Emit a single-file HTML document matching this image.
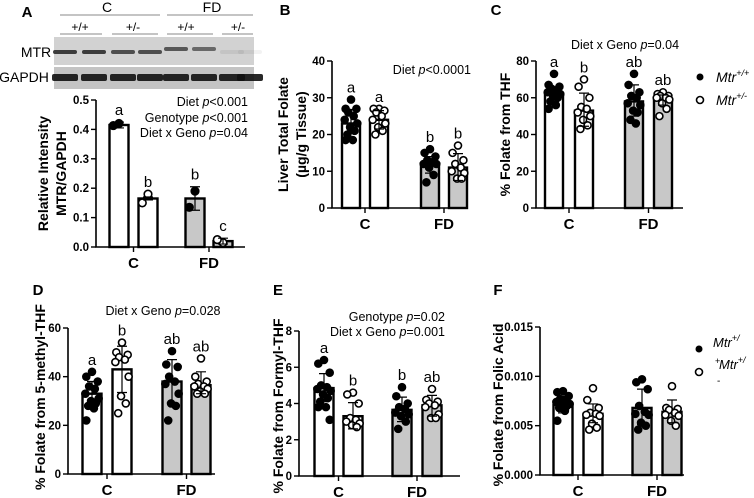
<!DOCTYPE html>
<html><head><meta charset="utf-8"><style>
html,body{margin:0;padding:0;background:#fff;}
svg{display:block;font-family:"Liberation Sans",Arial,sans-serif;}
</style></head><body>
<svg id="fig" width="754" height="498" viewBox="0 0 754 498">
 <g>
  <text x="27" y="17" font-size="15" font-weight="bold" text-anchor="middle">A</text>
  <text x="107" y="12" font-size="14" text-anchor="middle">C</text>
  <text x="212" y="12" font-size="14" text-anchor="middle">FD</text>
  <line x1="60" y1="15" x2="160" y2="15" stroke="#888" stroke-width="1"/>
  <line x1="167" y1="15" x2="253" y2="15" stroke="#888" stroke-width="1"/>
  <text x="80" y="31" font-size="12" text-anchor="middle">+/+</text>
  <text x="133" y="31" font-size="12" text-anchor="middle">+/-</text>
  <text x="186" y="31" font-size="12" text-anchor="middle">+/+</text>
  <text x="238" y="31" font-size="12" text-anchor="middle">+/-</text>
  <line x1="60" y1="34" x2="102" y2="34" stroke="#888"/><line x1="112" y1="34" x2="158" y2="34" stroke="#888"/>
  <line x1="167" y1="34" x2="213" y2="34" stroke="#888"/><line x1="222" y1="34" x2="253" y2="34" stroke="#888"/>
  <rect x="54" y="37" width="200" height="28" fill="#d2d2d2"/>
  <rect x="54" y="67" width="200" height="22" fill="#c4c4c4"/>
  <text x="36" y="57" font-size="14" text-anchor="middle">MTR</text>
  <text x="24" y="82" font-size="14" text-anchor="middle">GAPDH</text>
  <g id="bands"></g>
 </g>
 <g id="charts"></g>
 <g>
  <circle cx="700" cy="77" r="3.5" fill="#000"/>
  <text x="716" y="82" font-size="14" font-style="italic">Mtr<tspan font-size="9" dy="-6">+/+</tspan></text>
  <circle cx="700" cy="100" r="3.5" fill="#fff" stroke="#000" stroke-width="1.6"/>
  <text x="716" y="105" font-size="14" font-style="italic">Mtr<tspan font-size="9" dy="-6">+/-</tspan></text>
 </g>
 <g>
  <circle cx="699" cy="349" r="3.5" fill="#000"/>
  <text x="713" y="347" font-size="13" font-style="italic">Mtr<tspan font-size="9" dy="-6">+/</tspan></text>
  <text x="715" y="364" font-size="9">+</text>
  <circle cx="699" cy="372" r="3.5" fill="#fff" stroke="#000" stroke-width="1.6"/>
  <text x="719" y="369" font-size="13" font-style="italic">Mtr<tspan font-size="9" dy="-6">+/</tspan></text>
  <text x="717" y="384" font-size="10">-</text>
 </g>
</svg>
<script>
// ---- data ----
const cats = ['C','FD'];
const A_means=[0.415,0.165,0.165,0.02];
const A_lo=[0.405,0.16,0.125,0.01];
const A_hi=[0.425,0.17,0.205,0.03];
const A_dots=[[0.42,0.413],[0.18,0.15],[0.19,0.135],[0.015,0.025]];
const A_ticks=[0,0.1,0.2,0.3,0.4,0.5];
const A_tickLabels=['0.0','0.1','0.2','0.3','0.4','0.5'];
const A_letters=['a','b','b','c'];

const B_means=[23,24,12,11];
const B_lo=[20.5,21.5,9.5,7.5];
const B_hi=[26.8,26.5,14,14.8];
const B_dots=[[29.5,27,27,26,25,24,23,22,21,20,18.5,18.5],[27,27,26.5,26,25,24,23,22,21,20],[16,15,14,13,12.5,12,12,11,9,7],[17,15,13,12,11,10,9.5,8,8]];
const B_ticks=[0,10,20,30,40];
const B_tickLabels=['0','10','20','30','40'];
const B_letters=['a','a','b','b'];

const C_means=[62,53,58,59];
const C_lo=[58,44.5,50,56];
const C_hi=[66,62.5,67,61.5];
const C_dots=[[73,67,66,65,64,63,62,61,60,58,56,54],[70,66,60,55,54,52,50,48,45,43],[73,67,63,61,60,57,56,53,52,48,46],[63,62,61,61,60,60,59,57,54,50]];
const C_ticks=[0,20,40,60,80];
const C_tickLabels=['0','20','40','60','80'];
const C_letters=['a','b','ab','ab'];

const D_means=[33,43,38,36.5];
const D_lo=[27.5,33.5,29,33];
const D_hi=[38,52.5,47,42];
const D_dots=[[42,40,38,36,35,33,31,30,29,28,27,22],[54,50,49,48,47,46,40,32,29,25],[50.5,45,44,40,38,37,33,29,28,22],[47.5,40,38,37,36,36,35,34,33,33]];
const D_ticks=[0,20,40,60];
const D_tickLabels=['0','20','40','60'];
const D_letters=['a','b','ab','ab'];

const E_means=[4.85,3.3,3.65,3.9];
const E_lo=[4.1,2.6,3.0,3.3];
const E_hi=[5.65,4.05,4.35,4.45];
const E_dots=[[6.4,6.2,5.7,5.0,4.9,4.8,4.7,4.5,4.3,4.1,3.8,3.8,3.1],[4.6,4.5,4.0,3.2,3.1,3.0,2.9,2.8,2.7],[4.9,4.4,4.0,3.8,3.7,3.5,3.4,3.3,3.0,2.6],[4.8,4.2,4.1,4.0,3.9,3.8,3.4,3.2,3.2]];
const E_ticks=[0,2,4,6,8];
const E_tickLabels=['0','2','4','6','8'];
const E_letters=['a','b','b','ab'];

const F_means=[0.0071,0.0062,0.0068,0.0064];
const F_lo=[0.0063,0.0053,0.0051,0.0053];
const F_hi=[0.0080,0.0072,0.0087,0.0076];
const F_dots=[[0.0085,0.0084,0.0080,0.0077,0.0076,0.0074,0.0072,0.0071,0.0070,0.0068,0.0065,0.0055],[0.0088,0.0076,0.0068,0.0063,0.0062,0.0061,0.0060,0.0052,0.0048,0.0046],[0.0097,0.0094,0.0087,0.0070,0.0064,0.0062,0.0061,0.0053,0.0050,0.0046],[0.0090,0.0068,0.0067,0.0066,0.0063,0.0061,0.0060,0.0055,0.0050]];
const F_ticks=[0,0.005,0.010,0.015];
const F_tickLabels=['0.000','0.005','0.010','0.015'];
const F_letters=['','','',''];

// ---- rendering ----
const NS='http://www.w3.org/2000/svg';
function mk(tag,attrs,parent){const e=document.createElementNS(NS,tag);for(const k in attrs)e.setAttribute(k,attrs[k]);parent.appendChild(e);return e;}

const bandsG=document.getElementById('bands');
const laneX=[65,94,123,150,176,204,232,250];
const laneOp=[0.85,0.85,0.75,0.75,0.7,0.6,0.08,0.06];
laneX.forEach((x,i)=>{
  const b=mk('rect',{x:x-12,y:(i==4||i==5)?47:50,width:24,height:4,rx:2,fill:'#222','fill-opacity':laneOp[i]},bandsG);
  
  
  const g=mk('rect',{x:x-13,y:74,width:26,height:7,rx:2,fill:'#111','fill-opacity':0.9},bandsG);
  
  
});

const jit=[0,-6,6,-3,3,-7,7,-1,4,-4,2,-6,6];
function chart(p){
  const root=document.getElementById('charts');
  const g=mk('g',{},root);
  
  
  const tmax=p.ticks[p.ticks.length-1];
  const y=v=>p.y0-(v/tmax)*(p.y0-p.yTop);
  const t=mk('text',{x:p.lx,y:p.ly,'font-size':15,'font-weight':'bold','text-anchor':'middle'},g);
  t.textContent=p.id.toUpperCase();
  
  
  p.means.forEach((m,i)=>{
    const cx=p.barX[i];
    const r=mk('rect',{x:cx-p.bw/2,y:y(m),width:p.bw,height:p.y0-y(m),fill:i>1?'#c8c8c8':'#fff',stroke:'#000','stroke-width':2.4},g);
    
    
  });
  p.dots.forEach((arr,i)=>{
    arr.forEach((v,j)=>{
      const c=mk('circle',{cx:p.barX[i]+jit[j%jit.length]*p.bw/20,cy:y(v),r:p.r,fill:i%2?'#fff':'#000',stroke:'#000','stroke-width':1.6},g);
      
      
    });
  });
  p.means.forEach((m,i)=>{
    const cx=p.barX[i];
    const e=mk('path',{d:`M${cx},${y(p.lo[i])}V${y(p.hi[i])}M${cx-5},${y(p.lo[i])}H${cx+5}M${cx-5},${y(p.hi[i])}H${cx+5}`,stroke:'#000','stroke-width':1.2,fill:'none'},g);
    
    
    if(p.letters[i]){
      const top=Math.min(y(p.hi[i]),y(Math.max(...p.dots[i])));
      const l=mk('text',{x:cx,y:top-7,'font-size':15,'text-anchor':'middle'},g);
      l.textContent=p.letters[i];
      
      
    }
  });
  const ax=mk('path',{d:`M${p.ax},${p.yTop}V${p.y0}H${p.xEnd}`,stroke:'#000','stroke-width':1.6,fill:'none'},g);
  
  
  p.ticks.forEach((v,i)=>{
    mk('line',{x1:p.ax-5,x2:p.ax,y1:y(v),y2:y(v),stroke:'#000','stroke-width':1.4},g);
    const tl=mk('text',{x:p.ax-7,y:y(v)+4,'font-size':11.5,'font-weight':'bold','text-anchor':'end'},g);
    tl.textContent=p.tickLabels[i];
    
    
  });
  cats.forEach((c,i)=>{
    const cx=(p.barX[2*i]+p.barX[2*i+1])/2;
    mk('line',{x1:cx,x2:cx,y1:p.y0,y2:p.y0+5,stroke:'#000','stroke-width':1.4},g);
    const cl=mk('text',{x:cx,y:p.y0+21,'font-size':15,'font-weight':'bold','text-anchor':'middle'},g);
    cl.textContent=c;
    
    
  });
  const yc=p.tyc||(p.y0+p.yTop)/2;
  p.ytitle.forEach((s,k)=>{
    const tx=p.tx+k*18;
    const yt=mk('text',{x:tx,y:yc,'font-size':14,'font-weight':'bold','text-anchor':'middle',transform:`rotate(-90 ${tx} ${yc})`},g);
    yt.textContent=s;
    
    
  });
  p.ann.forEach(a=>{
    const at=mk('text',{x:a[0],y:a[1],'font-size':12.5,'text-anchor':a[3]},g);
    at.innerHTML=a[2];
    
    
  });
}
const it=s=>s.replace(/p([<=])/,'<tspan font-style="italic">p</tspan>$1');
chart({id:'a',lx:-100,ly:-100,ax:96,yTop:100,y0:247,xEnd:245,barX:[119,148,195,223],bw:19,r:3.8,
  means:A_means,lo:A_lo,hi:A_hi,dots:A_dots,ticks:A_ticks,tickLabels:A_tickLabels,letters:A_letters,
  tx:48,ytitle:['Relative Intensity','MTR/GAPDH'],
  ann:[[248,106,it('Diet p<0.001'),'end'],[248,122,it('Genotype p<0.001'),'end'],[248,137,it('Diet x Geno p=0.04'),'end']]});
chart({id:'b',lx:285,ly:15,ax:332,yTop:61,y0:208,xEnd:468,barX:[351,379,430,458],bw:18,r:3.5,
  means:B_means,lo:B_lo,hi:B_hi,dots:B_dots,ticks:B_ticks,tickLabels:B_tickLabels,letters:B_letters,
  tx:288,ytitle:['Liver Total Folate','(µg/g Tissue)'],
  ann:[[471,74,it('Diet p<0.0001'),'end']]});
chart({id:'c',lx:496,ly:15,ax:536,yTop:61,y0:208,xEnd:683,barX:[554,584,634,663],bw:18,r:3.5,
  means:C_means,lo:C_lo,hi:C_hi,dots:C_dots,ticks:C_ticks,tickLabels:C_tickLabels,letters:C_letters,
  tx:510,ytitle:['% Folate from THF'],
  ann:[[625,49,it('Diet x Geno p=0.04'),'middle']]});
chart({id:'d',lx:38,ly:295,ax:68,yTop:328,y0:474,xEnd:215,barX:[92,122,172,201],bw:19,r:3.5,
  means:D_means,lo:D_lo,hi:D_hi,dots:D_dots,ticks:D_ticks,tickLabels:D_tickLabels,letters:D_letters,
  tx:45,tyc:397,ytitle:['% Folate from 5-methyl-THF'],
  ann:[[163,315,it('Diet x Geno p=0.028'),'middle']]});
chart({id:'e',lx:278,ly:295,ax:299,yTop:331,y0:476,xEnd:460,barX:[324,353,402,432],bw:19,r:3.5,
  means:E_means,lo:E_lo,hi:E_hi,dots:E_dots,ticks:E_ticks,tickLabels:E_tickLabels,letters:E_letters,
  tx:283,tyc:406,ytitle:['% Folate from Formyl-THF'],
  ann:[[445,321,it('Genotype p=0.02'),'end'],[445,336,it('Diet x Geno p=0.001'),'end']]});
chart({id:'f',lx:498,ly:295,ax:540,yTop:327,y0:475,xEnd:684,barX:[563,593,642,672],bw:19,r:3.5,
  means:F_means,lo:F_lo,hi:F_hi,dots:F_dots,ticks:F_ticks,tickLabels:F_tickLabels,letters:F_letters,
  tx:503,tyc:405,ytitle:['% Folate from Folic Acid'],ann:[]});
</script>
</body></html>
